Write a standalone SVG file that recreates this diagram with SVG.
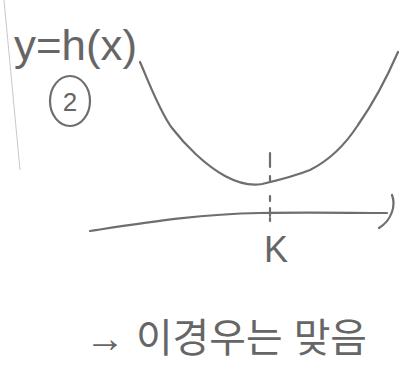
<svg xmlns="http://www.w3.org/2000/svg" width="418" height="368" viewBox="0 0 418 368">
<style>
.ink{fill:none;stroke:#6e6e6e;stroke-width:2.2;stroke-linecap:round;stroke-linejoin:round}
.t{fill:#666;font-family:"Liberation Sans","Noto Sans CJK KR",sans-serif}
</style>
<rect width="418" height="368" fill="#fff"/>
<path d="M4 0 L20 170" stroke="#c8c8c8" stroke-width="1" fill="none"/>
<g id="label-func">
<text class="t" x="14" y="60" font-size="42" textLength="123" lengthAdjust="spacingAndGlyphs">y=h(x)</text>
</g>
<g id="label-case">
<ellipse class="ink" cx="70" cy="101" rx="20" ry="25"/>
<text class="t" x="70" y="111" font-size="26" text-anchor="middle">2</text>
</g>
<g id="connectors">
<path id="curve" class="ink" d="M140 62 C150 85 160 112 172 128 C185 145 205 165 225 176 C238 183 250 186 262 184 C275 181 295 176 310 170 C330 160 345 145 358 125 C372 105 388 75 398 52"/>
<path id="axis" class="ink" d="M90 231 C150 222 200 214 260 213 C310 212 350 213 387 213"/>
<path id="axis-head" class="ink" d="M392 195 C396 205 392 220 379 228"/>
<path id="tick" class="ink" stroke-width="1.8" d="M270 153 L270 167 M270 176 L270 181 M270 196 L270 201 M270 208 L270 216 M270 218 L270 221"/>
</g>
<g id="label-k">
<text class="t" x="264" y="262" font-size="36">K</text>
</g>
<g id="note">
<text class="t" x="85" y="352" font-size="40" textLength="282" lengthAdjust="spacingAndGlyphs">→ 이경우는 맞음</text>
</g>
</svg>
